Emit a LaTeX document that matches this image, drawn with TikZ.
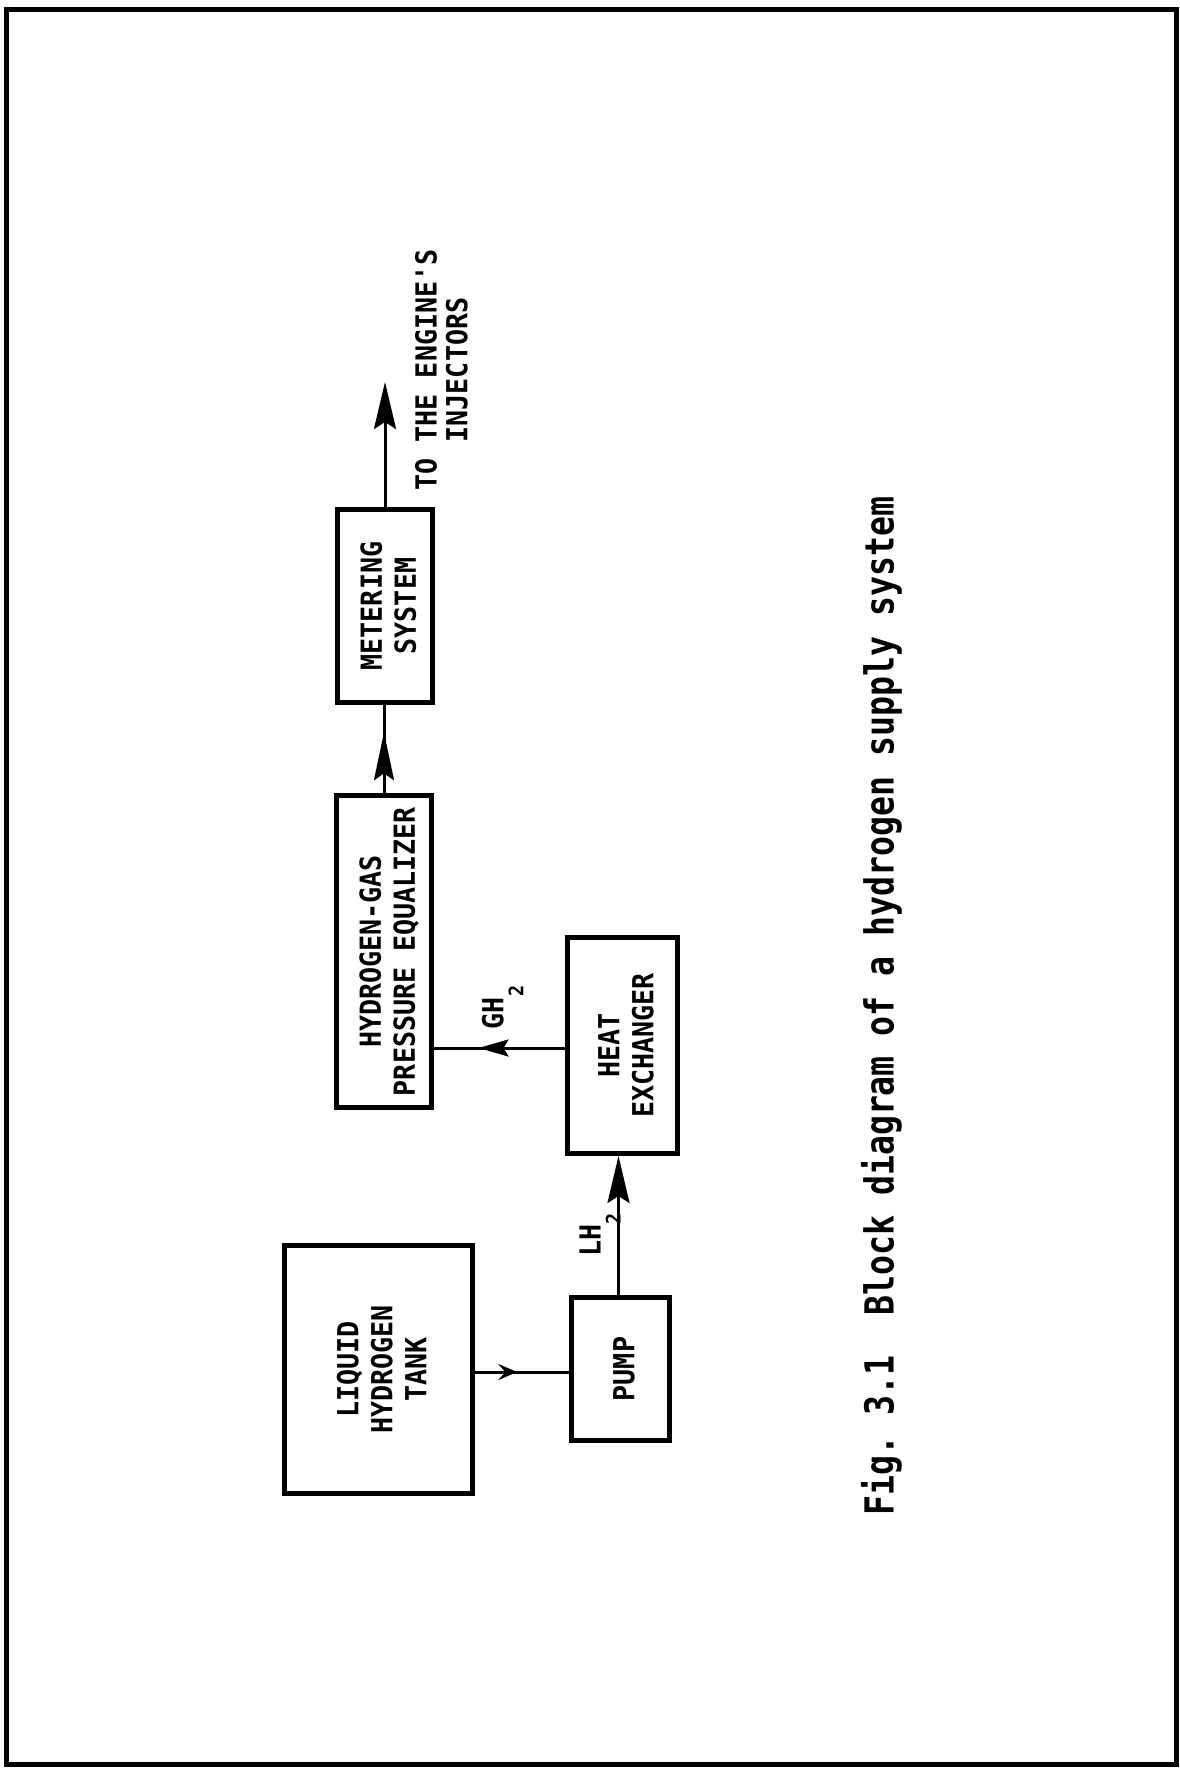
\documentclass[tikz,border=0pt]{standalone}
\usepackage{fontspec}
\usepackage{graphicx}
\newfontfamily\diafont{DejaVu Sans Mono}
\usetikzlibrary{arrows.meta,decorations.markings}
\newcommand\rlbl[1]{\rotatebox{90}{\scalebox{0.92}[1]{\begin{tabular}{@{}c@{}}\rule{0pt}{38pt}#1\end{tabular}}}}
\newcommand\sbtwo{\raisebox{-20pt}{\fontsize{20}{20}\selectfont 2}}
\tikzset{
  SmallTip/.tip={Stealth[length=19pt,width=16pt,inset=7pt]},
  MidTip/.tip={Stealth[length=30pt,width=17pt,inset=5pt]},
  TallTip/.tip={Stealth[length=48pt,width=20pt,inset=7pt]},
  BigTip/.tip={Stealth[length=47pt,width=22pt,inset=7pt]},
  blk/.style={draw, line width=5pt, rectangle, inner sep=0pt,
    font=\diafont\bfseries\fontsize{29}{34}\selectfont},
  lbl/.style={inner sep=0pt, font=\diafont\bfseries\fontsize{29}{30}\selectfont},
  conn/.style={line width=3pt},
  midarrow/.style n args={2}{postaction={decorate}, decoration={markings,
    mark=at position #1 with {\arrow{#2}}}}
}
\begin{document}
\begin{tikzpicture}[x=1pt,y=-1pt]
\useasboundingbox (0,0) rectangle (1180,1769);
\fill[white] (0,0) rectangle (1180,1769);
% page frame
\draw[line width=5pt] (6,10) rectangle (1176,1764);

% blocks
\node[blk, minimum width=188pt, minimum height=248pt] (tank) at (378.5,1369.5) {\rlbl{LIQUID\\HYDROGEN\\TANK}};
\node[blk, minimum width=98pt, minimum height=143pt] (pump) at (620.5,1369) {\rlbl{PUMP}};
\node[blk, minimum width=110pt, minimum height=216pt] (heat) at (622.5,1045.5) {\rlbl{HEAT\\EXCHANGER}};
\node[blk, minimum width=95pt, minimum height=312pt] (equal) at (384,951.5) {\rlbl{HYDROGEN-GAS\\PRESSURE EQUALIZER}};
\node[blk, minimum width=95pt, minimum height=193pt] (meter) at (385,606) {\rlbl{METERING\\SYSTEM}};
\coordinate (out) at (385,382);

% connectors
\draw[conn, midarrow={0.45}{SmallTip}] ([yshift=-2.5pt]tank.east) -- ([yshift=-2.5pt]tank.east -| pump.west);
\draw[conn, -{BigTip}] ([xshift=-2pt]pump.north) -- ([xshift=-2pt]pump.north |- heat.south);
\draw[conn, midarrow={0.66}{MidTip}] ([yshift=-2.5pt]heat.west) -- ([yshift=-2.5pt]heat.west -| equal.east);
\draw[conn, midarrow={0.69}{TallTip}] (equal.north) -- (equal.north |- meter.south);
\draw[conn, -{BigTip}] (meter.north) -- (out);

% labels
\node[lbl] (lh) at (600,1235) {\rotatebox{90}{\scalebox{0.92}[1]{LH\sbtwo}}};
\node[lbl] (gh) at (502.5,1007.5) {\rotatebox{90}{\scalebox{0.92}[1]{GH\sbtwo}}};
\node[lbl] (dest) at (437.5,370) {\rlbl{TO THE ENGINE'S\\INJECTORS}};
\node[inner sep=0pt, font=\diafont\bfseries\fontsize{40}{40}\selectfont\frenchspacing] (cap) at (881.5,1006)
  {\rotatebox{90}{\scalebox{0.83}[1]{Fig.\ 3.1\ \ Block diagram of a hydrogen supply system}}};
\end{tikzpicture}
\end{document}
